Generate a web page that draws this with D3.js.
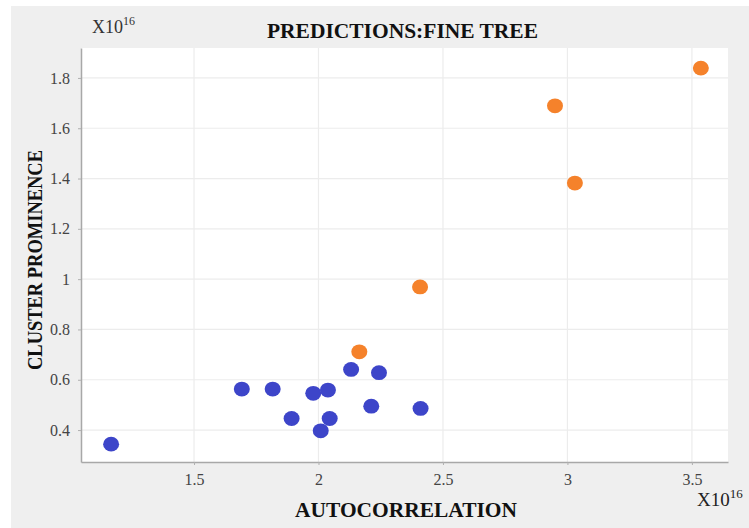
<!DOCTYPE html>
<html>
<head>
<meta charset="utf-8">
<script src="https://cdn.jsdelivr.net/npm/d3@7"></script>
<style>
  body { margin: 0; background: #fff; }
  svg { display: block; }
</style>
</head>
<body>
<svg id="chart" width="749" height="528"></svg>
<script>
// values in units of 1e16
const xTicks = [1.5, 2, 2.5, 3, 3.5];
const yTicks = [0.4, 0.6, 0.8, 1, 1.2, 1.4, 1.6, 1.8];

const blueX = [1.167, 1.692, 1.816, 1.892, 1.979, 2.038, 2.045, 2.009, 2.131, 2.243, 2.212, 2.410];
const blueY = [0.344, 0.563, 0.563, 0.446, 0.546, 0.559, 0.446, 0.397, 0.641, 0.628, 0.495, 0.486];
const orangeX = [3.536, 2.950, 3.030, 2.408, 2.164];
const orangeY = [1.839, 1.689, 1.382, 0.969, 0.711];

const serif = '"Liberation Serif", "Times New Roman", Tinos, "DejaVu Serif", serif';
const margin = { left: 81, right: 21, top: 48, bottom: 66 };
const width = 749, height = 528;

const svg = d3.select('#chart');

// gray panel
svg.append('rect')
  .attr('x', 11).attr('y', 6)
  .attr('width', width - 11).attr('height', height - 6)
  .attr('fill', '#efefef');

const x = d3.scaleLinear().domain([1.046, 3.645]).range([margin.left, width - margin.right]);
const y = d3.scaleLinear().domain([0.273, 1.919]).range([height - margin.bottom, margin.top]);

// plot area
svg.append('rect')
  .attr('x', margin.left).attr('y', margin.top)
  .attr('width', x.range()[1] - margin.left)
  .attr('height', y.range()[0] - margin.top)
  .attr('fill', '#fff');

// grid
svg.append('g').selectAll('line').data(xTicks).join('line')
  .attr('x1', d => x(d)).attr('x2', d => x(d))
  .attr('y1', margin.top).attr('y2', y.range()[0])
  .attr('stroke', '#ececec').attr('stroke-width', 1.2);
svg.append('g').selectAll('line').data(yTicks).join('line')
  .attr('x1', margin.left).attr('x2', x.range()[1])
  .attr('y1', d => y(d)).attr('y2', d => y(d))
  .attr('stroke', '#ececec').attr('stroke-width', 1.2);

// axes
const xAxis = svg.append('g')
  .attr('transform', `translate(0,${y.range()[0]})`)
  .call(d3.axisBottom(x).tickValues(xTicks).tickSize(3).tickSizeOuter(0).tickPadding(9).tickFormat(d3.format('')));
const yAxis = svg.append('g')
  .attr('transform', `translate(${margin.left},0)`)
  .call(d3.axisLeft(y).tickValues(yTicks).tickSize(3).tickSizeOuter(0).tickPadding(8).tickFormat(d3.format('')));

[xAxis, yAxis].forEach(a => {
  a.attr('font-family', serif).attr('font-size', 16);
  a.select('.domain').attr('stroke', '#a8a8a8').attr('stroke-width', 1.5);
  a.selectAll('.tick line').attr('stroke', '#b0b0b0');
  a.selectAll('.tick text').attr('fill', '#444');
});

// points
const blue = blueX.map((v, i) => ({ x: v, y: blueY[i] }));
const orange = orangeX.map((v, i) => ({ x: v, y: orangeY[i] }));

svg.append('g').selectAll('ellipse').data(blue).join('ellipse')
  .attr('cx', d => x(d.x)).attr('cy', d => y(d.y))
  .attr('rx', 8).attr('ry', 7.4)
  .attr('fill', '#3d45c9');
svg.append('g').selectAll('ellipse').data(orange).join('ellipse')
  .attr('cx', d => x(d.x)).attr('cy', d => y(d.y))
  .attr('rx', 8).attr('ry', 7.4)
  .attr('fill', '#f5822b');

// titles
svg.append('text')
  .attr('x', 267).attr('y', 38)
  .attr('font-family', serif)
  .attr('font-weight', 'bold')
  .attr('font-size', 20)
  .attr('textLength', 271).attr('lengthAdjust', 'spacingAndGlyphs')
  .attr('fill', '#111')
  .text('PREDICTIONS:FINE TREE');

svg.append('text')
  .attr('x', 295).attr('y', 517)
  .attr('font-family', serif)
  .attr('font-weight', 'bold')
  .attr('font-size', 20)
  .attr('textLength', 222).attr('lengthAdjust', 'spacingAndGlyphs')
  .attr('fill', '#111')
  .text('AUTOCORRELATION');

svg.append('text')
  .attr('transform', 'translate(42,370) rotate(-90)')
  .attr('font-family', serif)
  .attr('font-weight', 'bold')
  .attr('font-size', 20)
  .attr('textLength', 220).attr('lengthAdjust', 'spacingAndGlyphs')
  .attr('fill', '#111')
  .text('CLUSTER PROMINENCE');

// exponent labels
const expTop = svg.append('text')
  .attr('x', 92).attr('y', 33)
  .attr('font-family', serif)
  .attr('font-size', 18)
  .attr('fill', '#333');
expTop.append('tspan').text('X10');
expTop.append('tspan').attr('dy', -8).attr('font-size', 12).text('16');

const expBottom = svg.append('text')
  .attr('x', 697).attr('y', 506)
  .attr('font-family', serif)
  .attr('font-size', 19)
  .attr('fill', '#222');
expBottom.append('tspan').text('X10');
expBottom.append('tspan').attr('dy', -8).attr('font-size', 13).text('16');
</script>
</body>
</html>
